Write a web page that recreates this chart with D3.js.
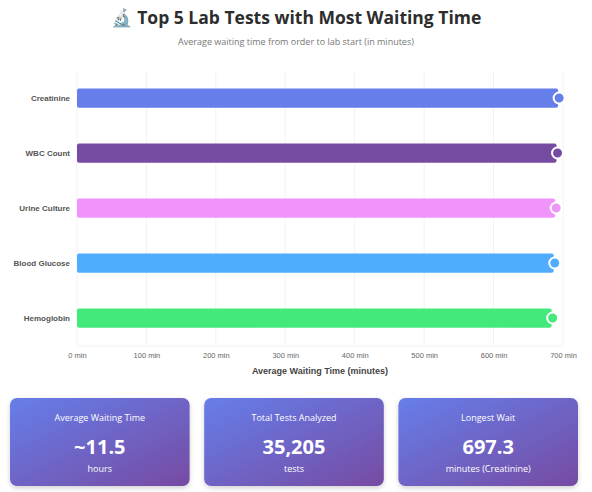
<!DOCTYPE html>
<html>
<head>
<meta charset="utf-8">
<script src="https://cdn.jsdelivr.net/npm/d3@7"></script>
<style>
  html, body { margin: 0; padding: 0; background: #fff; }
  body { width: 592px; height: 492px; overflow: hidden; font-family: "Noto Sans", "Open Sans", sans-serif; }
</style>
</head>
<body>
<svg id="chart" width="592" height="492"></svg>
<script>
const categories = ["Creatinine", "WBC Count", "Urine Culture", "Blood Glucose", "Hemoglobin"];
const waitMinutes = [697.3, 695, 693, 691, 688];
const barColors = ["#667eea", "#764ba2", "#f093fb", "#4facfe", "#43e97b"];
const xTicks = [0, 100, 200, 300, 400, 500, 600, 700];
const cardLabels = ["Average Waiting Time", "Total Tests Analyzed", "Longest Wait"];
const cardValues = ["~11.5", "35,205", "697.3"];
const cardUnits = ["hours", "tests", "minutes (Creatinine)"];

const svg = d3.select("#chart");

// Title
svg.append("text").attr("x", 296).attr("y", 24).attr("text-anchor", "middle")
  .attr("font-family", "'Open Sans', 'Noto Sans', sans-serif").attr("font-weight", 700)
  .attr("font-size", 17.5).attr("fill", "#2d2d2d")
  .text("🔬 Top 5 Lab Tests with Most Waiting Time");
svg.append("text").attr("x", 296).attr("y", 45).attr("text-anchor", "middle")
  .attr("font-family", "'Open Sans', 'Noto Sans', sans-serif")
  .attr("font-size", 9).attr("fill", "#777")
  .text("Average waiting time from order to lab start (in minutes)");

const x = d3.scaleLinear().domain([0, 700]).range([77, 563]);
const y = d3.scaleBand().domain(categories).range([70.5, 345.5]).paddingInner(0.65).paddingOuter(0.325);

const plot = svg.append("g").attr("font-family", "'Liberation Sans', Arial, sans-serif");

// grid
plot.append("g").selectAll("line").data(xTicks).join("line")
  .attr("x1", d => x(d)).attr("x2", d => x(d)).attr("y1", 72).attr("y2", 346)
  .attr("stroke", "#f2f2f2").attr("stroke-width", 1);
plot.append("line").attr("x1", x(0)).attr("x2", x(700)).attr("y1", 346).attr("y2", 346)
  .attr("stroke", "#f2f2f2");

// x axis
const xAxis = plot.append("g").attr("transform", "translate(0,346)")
  .call(d3.axisBottom(x).tickValues(xTicks).tickFormat(d => d + " min").tickSize(0).tickPadding(7));
xAxis.select(".domain").remove();
xAxis.selectAll("text").attr("font-size", 7.5).attr("fill", "#666").attr("font-family", "'Liberation Sans', Arial, sans-serif");

plot.append("text").attr("x", x(350)).attr("y", 374).attr("text-anchor", "middle")
  .attr("font-size", 9).attr("font-weight", 700).attr("fill", "#444").text("Average Waiting Time (minutes)");

// y axis
const yAxis = plot.append("g").attr("transform", "translate(70,0)")
  .call(d3.axisLeft(y).tickSize(0).tickPadding(0));
yAxis.select(".domain").remove();
yAxis.selectAll("text").attr("font-size", 8).attr("font-weight", 700).attr("fill", "#555")
  .attr("font-family", "'Liberation Sans', Arial, sans-serif");

// bars
const data = categories.map((c, i) => ({ c, v: waitMinutes[i], col: barColors[i] }));
plot.append("g").selectAll("rect").data(data).join("rect")
  .attr("x", x(0)).attr("y", d => y(d.c)).attr("width", d => x(d.v) - x(0) - 3)
  .attr("height", y.bandwidth()).attr("rx", 2).attr("fill", d => d.col);
plot.append("g").selectAll("circle").data(data).join("circle")
  .attr("cx", d => x(d.v) - 2).attr("cy", d => y(d.c) + y.bandwidth() / 2).attr("r", 5.5)
  .attr("fill", d => d.col).attr("stroke", "#fff").attr("stroke-width", 2);

// cards
const defs = svg.append("defs");
const grad = defs.append("linearGradient").attr("id", "cardGrad")
  .attr("x1", "0%").attr("y1", "0%").attr("x2", "100%").attr("y2", "100%");
grad.append("stop").attr("offset", "0%").attr("stop-color", "#667eea");
grad.append("stop").attr("offset", "100%").attr("stop-color", "#764ba2");
const shadow = defs.append("filter").attr("id", "shadow").attr("x", "-10%").attr("y", "-10%").attr("width", "120%").attr("height", "130%");
shadow.append("feDropShadow").attr("dx", 0).attr("dy", 2).attr("stdDeviation", 2.5).attr("flood-color", "#000").attr("flood-opacity", 0.18);

const cardX = d3.scaleBand().domain(d3.range(3)).range([10, 578]).paddingInner(0.075);
const cards = svg.append("g").selectAll("g").data(d3.range(3)).join("g")
  .attr("transform", i => `translate(${cardX(i)},398)`)
  .attr("font-family", "'Open Sans', 'Noto Sans', sans-serif");
cards.append("rect").attr("width", cardX.bandwidth()).attr("height", 88).attr("rx", 7)
  .attr("fill", "url(#cardGrad)").attr("filter", "url(#shadow)");
cards.append("text").attr("x", cardX.bandwidth() / 2).attr("y", 23).attr("text-anchor", "middle")
  .attr("font-size", 9).attr("fill", "#fff").text(i => cardLabels[i]);
cards.append("text").attr("x", cardX.bandwidth() / 2).attr("y", 56).attr("text-anchor", "middle")
  .attr("font-size", 20).attr("font-weight", 700).attr("fill", "#fff").text(i => cardValues[i]);
cards.append("text").attr("x", cardX.bandwidth() / 2).attr("y", 74).attr("text-anchor", "middle")
  .attr("font-size", 9).attr("fill", "#fff").text(i => cardUnits[i]);
</script>
</body>
</html>
